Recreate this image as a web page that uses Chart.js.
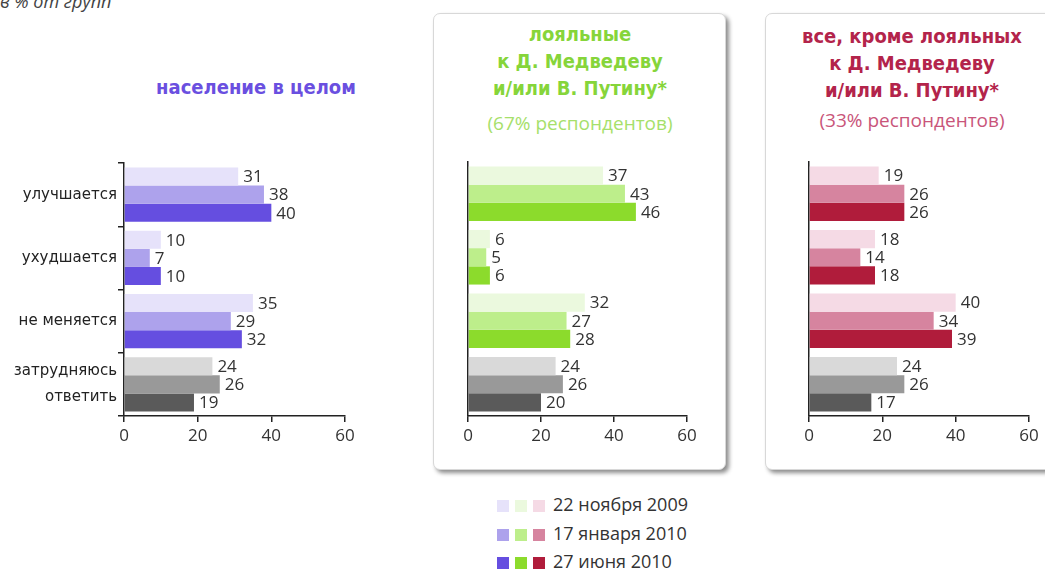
<!DOCTYPE html>
<html>
<head>
<meta charset="utf-8">
<script src="https://cdn.jsdelivr.net/npm/chart.js@4.4.0/dist/chart.umd.min.js"></script>
<style>
body
{
    margin: 0;
    width: 1045px;
    height: 569px;
    background: #fff;
    position: relative;
    overflow: hidden;
    font-family: "DejaVu Sans", sans-serif;
}
.note
{
    position: absolute;
    left: 0;
    top: -11px;
    font-family: "Open Sans", sans-serif;
    font-style: italic;
    font-size: 18px;
    color: #444;
}
.box
{
    position: absolute;
    top: 13px;
    height: 455px;
    border: 1px solid #d8d8d8;
    border-radius: 7px;
    background: #fff;
    box-shadow: 3px 3px 4px rgba(0, 0, 0, 0.45);
}
.title
{
    position: absolute;
    text-align: center;
    font-family: "DejaVu Sans Condensed", "DejaVu Sans", sans-serif;
    font-weight: bold;
    font-size: 20px;
    line-height: 27px;
    white-space: nowrap;
}
.sub
{
    font-family: "Open Sans", sans-serif;
    font-weight: normal;
    font-size: 19px;
    line-height: 27px;
}
.chart
{
    position: absolute;
    top: 150px;
}
#legend
{
    position: absolute;
    left: 497px;
    top: 490px;
    font-family: "Open Sans", sans-serif;
    font-size: 18px;
    color: #333;
}
#legend div
{
    height: 28.5px;
    line-height: 28.5px;
}
#legend span
{
    display: inline-block;
    width: 12px;
    height: 12px;
    margin-right: 6px;
    vertical-align: -1px;
}
#legend span:nth-child(3)
{
    margin-right: 8px;
}
</style>
</head>
<body>

<div class="note">в % от групп</div>

<div class="box" style="left: 433px; width: 291px;"></div>
<div class="box" style="left: 765px; width: 300px;"></div>

<div class="title" style="left: 106px; width: 300px; top: 74px; color: #6a4fe0;">население в целом</div>
<div class="title" style="left: 430px; width: 300px; top: 21px; color: #86d53a;">лояльные<br>к Д. Медведеву<br>и/или В. Путину*<div class="sub" style="margin-top: 8px; color: #a6e06a;">(67% респондентов)</div></div>
<div class="title" style="left: 762px; width: 300px; top: 23px; color: #b3244b;">все, кроме лояльных<br>к Д. Медведеву<br>и/или В. Путину*<div class="sub" style="margin-top: 3px; color: #c9557a;">(33% респондентов)</div></div>

<div class="chart" style="left: 0px; width: 370px; height: 296px;"><canvas id="chartAll"></canvas></div>
<div class="chart" style="left: 448px; width: 259px; height: 296px;"><canvas id="chartLoyal"></canvas></div>
<div class="chart" style="left: 789px; width: 256px; height: 296px;"><canvas id="chartOther"></canvas></div>

<div id="legend"></div>

<script>
// Data
var categories = ['улучшается', 'ухудшается', 'не меняется', ['затрудняюсь', 'ответить']];
var dates = ['22 ноября 2009', '17 января 2010', '27 июня 2010'];
var xTicks = [0, 20, 40, 60];

var allNov09 = [31, 10, 35, 24];
var allJan10 = [38, 7, 29, 26];
var allJun10 = [40, 10, 32, 19];

var loyalNov09 = [37, 6, 32, 24];
var loyalJan10 = [43, 5, 27, 26];
var loyalJun10 = [46, 6, 28, 20];

var otherNov09 = [19, 18, 40, 24];
var otherJan10 = [26, 14, 34, 26];
var otherJun10 = [26, 18, 39, 17];

// Colors
var purples = ['#e6e2fa', '#ada2ec', '#654ee0'];
var greens = ['#ebf9de', '#bdee8b', '#8cdb2c'];
var reds = ['#f5dae5', '#d6849f', '#b01c3b'];
var grays = ['#d9d9d9', '#999999', '#5a5a5a'];


// Value labels next to the bars
var valueLabels =
{
    id: 'valueLabels',
    afterDatasetsDraw: function (chart)
    {
        var ctx = chart.ctx;
        ctx.save();
        ctx.font = '17px "Open Sans"';
        ctx.fillStyle = '#333';
        ctx.textBaseline = 'middle';
        chart.data.datasets.forEach(function (ds, i)
        {
            chart.getDatasetMeta(i).data.forEach(function (bar, j)
            {
                ctx.fillText(ds.data[j], bar.x + 5, bar.y + 1);
            });
        });
        ctx.restore();
    }
};

function makeDatasets(series, colors)
{
    return series.map(function (values, i)
    {
        return {
            label: dates[i],
            data: values,
            backgroundColor: values.map(function (v, j)
            {
                return j == values.length - 1 ? grays[i] : colors[i];
            }),
            borderWidth: 0,
            barPercentage: 1,
            categoryPercentage: 0.86
        };
    });
}

function makeChart(id, series, colors, yWidth, pad, showLabels)
{
    var ctx = document.getElementById(id).getContext('2d');
    return new Chart(ctx,
    {
        type: 'bar',
        data:
        {
            labels: categories,
            datasets: makeDatasets(series, colors)
        },
        options:
        {
            indexAxis: 'y',
            responsive: true,
            maintainAspectRatio: false,
            animation: false,
            layout: { padding: pad },
            plugins:
            {
                legend: { display: false },
                tooltip: { enabled: false }
            },
            scales:
            {
                x:
                {
                    min: 0,
                    max: 60,
                    afterBuildTicks: function (axis)
                    {
                        axis.ticks = xTicks.map(function (v) { return { value: v }; });
                    },
                    afterFit: function (axis)
                    {
                        axis.height = 30;
                        axis.paddingLeft = 0;
                        axis.paddingRight = 0;
                    },
                    border: { color: '#222', width: 1.5 },
                    grid: { drawOnChartArea: false, tickLength: 6, color: '#222', lineWidth: 1.5 },
                    ticks: { color: '#333', padding: 4, font: { family: 'Open Sans', size: 17 } }
                },
                y:
                {
                    afterFit: function (axis)
                    {
                        axis.width = yWidth;
                        axis.paddingTop = 0;
                        axis.paddingBottom = 0;
                    },
                    border: { color: '#222', width: 1.5 },
                    grid: { drawOnChartArea: false, display: showLabels, tickLength: 6, color: '#222', lineWidth: 1.5 },
                    ticks:
                    {
                        display: showLabels,
                        color: '#222',
                        padding: 1,
                        font: { family: 'DejaVu Sans', size: 15, lineHeight: 1.75 }
                    }
                }
            }
        },
        plugins: [valueLabels]
    });
}

makeChart('chartAll', [allNov09, allJan10, allJun10], purples, 124, { top: 13, right: 25, left: 0, bottom: 0 }, true);
makeChart('chartLoyal', [loyalNov09, loyalJan10, loyalJun10], greens, 20, { top: 12, right: 20, left: 0, bottom: 0 }, false);
makeChart('chartOther', [otherNov09, otherJan10, otherJun10], reds, 20, { top: 12, right: 16, left: 0, bottom: 0 }, false);

// Legend
var legend = document.getElementById('legend');
dates.forEach(function (d, i)
{
    var row = document.createElement('div');
    [purples, greens, reds].forEach(function (c)
    {
        var sq = document.createElement('span');
        sq.style.background = c[i];
        row.appendChild(sq);
    });
    row.appendChild(document.createTextNode(d));
    legend.appendChild(row);
});
</script>
</body>
</html>
